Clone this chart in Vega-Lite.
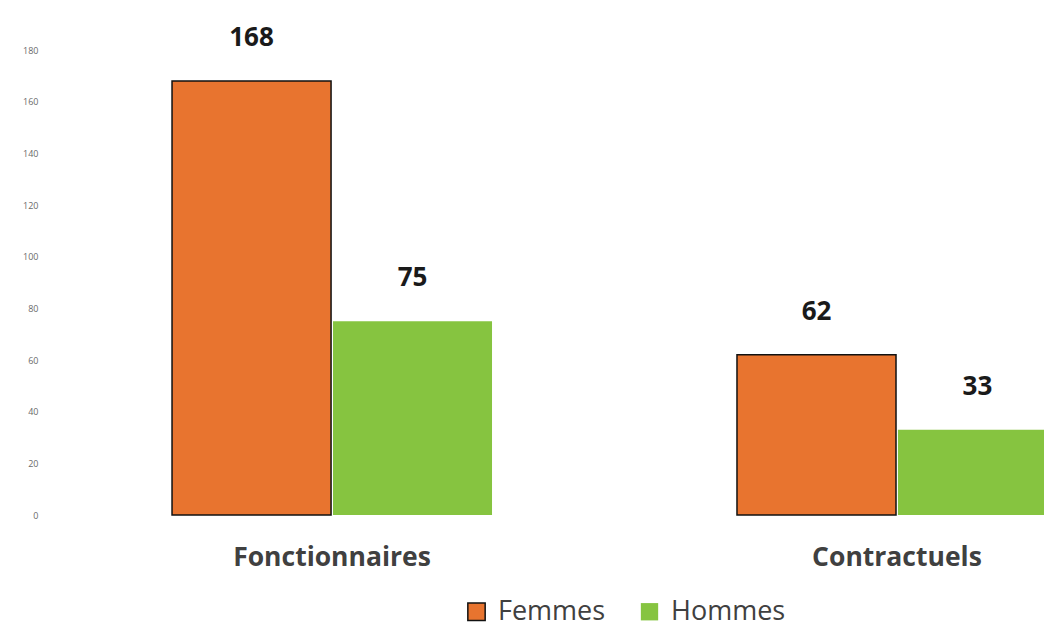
{
  "$schema": "https://vega.github.io/schema/vega-lite/v6.json",
  "width": 1129,
  "height": 465,
  "autosize": {"type": "none"},
  "padding": {"left": 50, "top": 50, "right": 0, "bottom": 112},
  "background": "white",
  "config": {"view": {"stroke": null}, "font": "Open Sans"},
  "data": {
    "values": [
      {"statut": "Fonctionnaires", "sexe": "Femmes", "valeur": 168},
      {"statut": "Fonctionnaires", "sexe": "Hommes", "valeur": 75},
      {"statut": "Contractuels", "sexe": "Femmes", "valeur": 62},
      {"statut": "Contractuels", "sexe": "Hommes", "valeur": 33}
    ]
  },
  "encoding": {
    "x": {
      "field": "statut",
      "type": "nominal",
      "sort": ["Fonctionnaires", "Contractuels"],
      "scale": {"paddingInner": 0.4336, "paddingOuter": 0.216},
      "axis": {
        "title": null,
        "domain": false,
        "ticks": false,
        "labelAngle": 0,
        "labelFontSize": 26.5,
        "labelFontWeight": "bold",
        "labelColor": "#404040",
        "labelPadding": 29,
        "labelLimit": 0
      }
    },
    "xOffset": {
      "field": "sexe",
      "type": "nominal",
      "sort": ["Femmes", "Hommes"],
      "scale": {"paddingInner": 0.012}
    },
    "y": {
      "field": "valeur",
      "type": "quantitative",
      "scale": {"domain": [0, 180]},
      "axis": {
        "title": null,
        "domain": false,
        "ticks": false,
        "grid": false,
        "values": [0, 20, 40, 60, 80, 100, 120, 140, 160, 180],
        "labelFontSize": 9,
        "labelColor": "#6a6a6a",
        "labelPadding": 12
      }
    }
  },
  "layer": [
    {
      "mark": {"type": "bar", "strokeWidth": 1.5},
      "encoding": {
        "color": {
          "field": "sexe",
          "type": "nominal",
          "scale": {"domain": ["Femmes", "Hommes"], "range": ["#E8742F", "#86C440"]},
          "legend": {
            "title": null,
            "orient": "none",
            "legendX": 413,
            "legendY": 548,
            "direction": "horizontal",
            "labelFontSize": 27,
            "labelColor": "#404040",
            "labelLimit": 0,
            "symbolType": "square",
            "symbolSize": 300,
            "symbolStrokeWidth": 1.5,
            "columnPadding": 30,
            "labelOffset": 8
          }
        },
        "stroke": {
          "field": "sexe",
          "type": "nominal",
          "scale": {"domain": ["Femmes", "Hommes"], "range": ["#111111", "transparent"]}
        }
      }
    },
    {
      "mark": {"type": "text", "baseline": "bottom", "dy": -30, "fontSize": 26, "fontWeight": "bold", "color": "#1a1a1a"},
      "encoding": {"text": {"field": "valeur", "type": "quantitative"}}
    }
  ]
}
